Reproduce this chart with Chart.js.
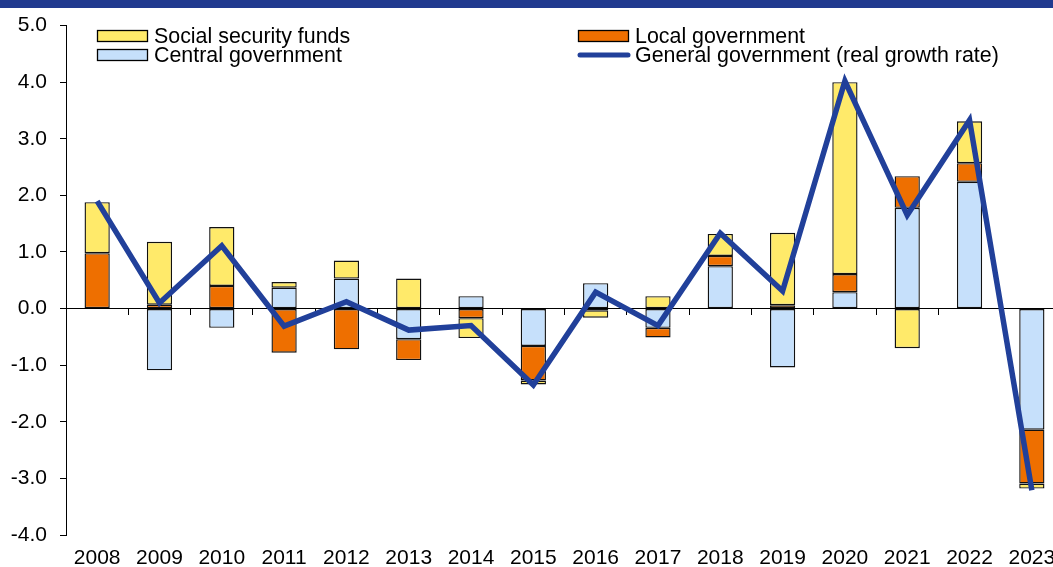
<!DOCTYPE html>
<html>
<head>
<meta charset="utf-8">
<script src="https://cdn.jsdelivr.net/npm/chart.js@4.4.0/dist/chart.umd.min.js"></script>
<style>
html, body { margin: 0; padding: 0; background: #fff; overflow: hidden; }
#wrap { position: relative; width: 1064px; height: 567px; }
#band { position: absolute; left: 0; top: 0; width: 1053px; height: 8px; background: #213a8f; }
</style>
</head>
<body>
<div id="wrap">
	<canvas id="chart" width="1064" height="567"></canvas>
	<div id="band"></div>
</div>
<script>
var years = ['2008', '2009', '2010', '2011', '2012', '2013', '2014', '2015', '2016', '2017', '2018', '2019', '2020', '2021', '2022', '2023'];
var central = [null, -1.09, -0.34, 0.37, 0.53, -0.54, 0.22, -0.66, 0.45, -0.34, 0.75, -1.04, 0.29, 1.78, 2.24, -2.14];
var local = [0.98, 0.07, 0.40, -0.78, -0.72, -0.37, -0.17, -0.61, -0.03, -0.17, 0.18, 0.06, 0.32, 0.56, 0.33, -0.95];
var social = [0.90, 1.11, 1.04, 0.10, 0.32, 0.53, -0.35, -0.07, -0.13, 0.22, 0.39, 1.28, 3.39, -0.70, 0.74, -0.09];
var general = [1.90, 0.10, 1.11, -0.31, 0.12, -0.38, -0.30, -1.35, 0.29, -0.30, 1.33, 0.31, 4.02, 1.65, 3.33, -3.21];
var yMin = -4, yMax = 5, yStep = 1;

var colSocial = '#ffea6a';
var colLocal = '#ee6f00';
var colCentral = '#c6e0fb';
var colGeneral = '#21409a';
var font = 'Liberation Sans, Arial, sans-serif';

// legend drawn by hand: 2 rows x 2 columns inside the plot
var legendPlugin = {
	id: 'legend2x2',
	afterDraw: function(chart) {
		var c = chart.ctx;
		var items = [
			{ label: 'Social security funds', color: colSocial, x: 97, y: 36, box: true },
			{ label: 'Local government', color: colLocal, x: 578, y: 36, box: true },
			{ label: 'Central government', color: colCentral, x: 97, y: 55, box: true },
			{ label: 'General government (real growth rate)', color: colGeneral, x: 578, y: 55, box: false }
		];
		c.save();
		c.font = '21.4px ' + font;
		c.textBaseline = 'middle';
		items.forEach(function(it) {
			if (it.box) {
				c.fillStyle = it.color;
				c.fillRect(it.x, it.y - 6, 51, 12);
				c.strokeStyle = '#000';
				c.lineWidth = 1.3;
				c.strokeRect(it.x + 0.5, it.y - 5.5, 50, 11);
			} else {
				c.strokeStyle = it.color;
				c.lineWidth = 5;
				c.lineCap = 'round';
				c.beginPath();
				c.moveTo(it.x + 2, it.y);
				c.lineTo(it.x + 50, it.y);
				c.stroke();
			}
			c.fillStyle = '#000';
			c.fillText(it.label, it.x + 57, it.y + 1);
		});
		c.restore();
	}
};

var ctx = document.getElementById('chart');
var chart = new Chart(ctx, {
	type: 'bar',
	data: {
		labels: years,
		datasets: [{
			type: 'line',
			label: 'General government (real growth rate)',
			data: general,
			borderColor: colGeneral,
			borderWidth: 5.5,
			pointRadius: 0,
			tension: 0,
			borderJoinStyle: 'miter',
			order: 0
		},
		{
			label: 'Central government',
			data: central,
			backgroundColor: colCentral,
			order: 1
		},
		{
			label: 'Local government',
			data: local,
			backgroundColor: colLocal,
			order: 2
		},
		{
			label: 'Social security funds',
			data: social,
			backgroundColor: colSocial,
			order: 3
		}]
	},
	options: {
		responsive: false,
		animation: false,
		devicePixelRatio: 1,
		datasets: {
			bar: {
				borderColor: '#111',
				borderWidth: 1.4,
				borderSkipped: false,
				barPercentage: 0.405,
				categoryPercentage: 1
			}
		},
		layout: { padding: { top: 25, left: 0, right: 1, bottom: 0 } },
		plugins: {
			legend: { display: false },
			tooltip: { enabled: false }
		},
		scales: {
			x: {
				stacked: true,
				offset: true,
				grid: { display: false },
				border: { display: false },
				ticks: { color: '#000', font: { size: 21, family: font }, padding: 3, maxRotation: 0, autoSkip: false },
				afterFit: function(s) { s.height = 32; }
			},
			xz: {
				type: 'category',
				labels: years,
				position: { y: 0 },
				offset: true,
				grid: { display: true, offset: true, drawOnChartArea: false, drawTicks: true, tickLength: 6, color: '#000' },
				border: { display: true, color: '#000', width: 1 },
				ticks: { display: false }
			},
			y: {
				stacked: true,
				min: yMin,
				max: yMax,
				grid: { drawOnChartArea: false, drawTicks: true, tickLength: 6, color: '#000' },
				border: { display: true, color: '#000', width: 1 },
				ticks: {
					stepSize: yStep,
					color: '#000',
					padding: 13,
					font: { size: 21, family: font },
					callback: function(v) { return v.toFixed(1); }
				},
				afterFit: function(s) { s.width = 66; }
			}
		}
	},
	plugins: [legendPlugin]
});
</script>
</body>
</html>
